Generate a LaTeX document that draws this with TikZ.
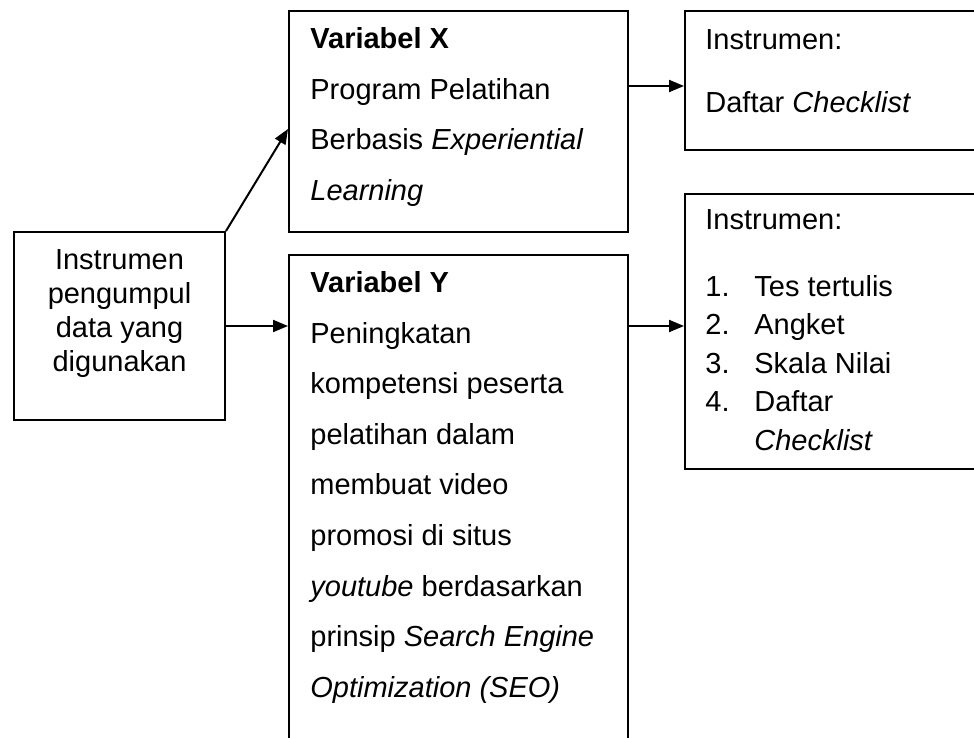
\documentclass[tikz,border=0pt]{standalone}
\usepackage{fontspec}
\setmainfont{Liberation Sans}
\usetikzlibrary{arrows.meta}

\begin{document}
\begin{tikzpicture}[x=0.5pt,y=-0.5pt,
  kotak/.style={draw,line width=1pt,anchor=north west,inner sep=0pt},
  teks/.style={anchor=north west,inner sep=0pt,align=left,font=\fontsize{14.5}{25.3}\selectfont},
  panah/.style={line width=1pt,-{Triangle[length=7.5pt,width=6pt]}}]
\path[use as bounding box] (0,0) rectangle (974,738);
\clip (0,0) rectangle (974,738);
% kotak
\node[kotak,minimum width=105.5pt,minimum height=94pt] (inst) at (13,231) {};
\node[kotak,minimum width=169.5pt,minimum height=110.5pt] (varX) at (288,10) {};
\node[kotak,minimum width=169.5pt,minimum height=260pt] (varY) at (288,254) {};
\node[kotak,minimum width=160pt,minimum height=69.5pt] (insX) at (684,10) {};
\node[kotak,minimum width=160pt,minimum height=137.5pt] (insY) at (684,193) {};
% isi
\node[teks,anchor=north,align=center,font=\fontsize{14.5}{17}\selectfont] (tInst) at ([yshift=-9pt]inst.north)
  {Instrumen\\pengumpul\\data yang\\digunakan};
\node[teks] (tX) at ([xshift=11pt,yshift=-8.5pt]varX.north west)
  {\textbf{Variabel X}\\Program Pelatihan\\Berbasis \textit{Experiential}\\\textit{Learning}};
\node[teks] (tY) at ([xshift=11pt,yshift=-8.5pt]varY.north west)
  {\textbf{Variabel Y}\\Peningkatan\\kompetensi peserta\\pelatihan dalam\\membuat video\\promosi di situs\\
   \textit{youtube} berdasarkan\\prinsip \textit{Search Engine}\\\textit{Optimization (SEO)}};
\node[teks] (tInsX) at ([xshift=10.5pt,yshift=-9.5pt]insX.north west)
  {Instrumen:\\[6.2pt]Daftar \textit{Checklist}};
\node[teks,font=\fontsize{14.5}{19.25}\selectfont] (tInsY) at ([xshift=10.5pt,yshift=-8pt]insY.north west)
  {Instrumen:\\[14.25pt]
   \makebox[24.5pt][l]{1.}Tes tertulis\\
   \makebox[24.5pt][l]{2.}Angket\\
   \makebox[24.5pt][l]{3.}Skala Nilai\\
   \makebox[24.5pt][l]{4.}Daftar\\
   \hspace*{24.5pt}\textit{Checklist}};
% panah
\coordinate (aX) at ([yshift=-2.75pt]insX.west);
\draw[panah] (inst.north east) -- ([yshift=-3.75pt]varX.west);
\draw[panah] (inst.east) -- (inst.east -| varY.west);
\draw[panah] (aX -| varX.east) -- (aX);
\draw[panah] (inst.east -| varY.east) -- (inst.east -| insY.west);
\end{tikzpicture}
\end{document}
